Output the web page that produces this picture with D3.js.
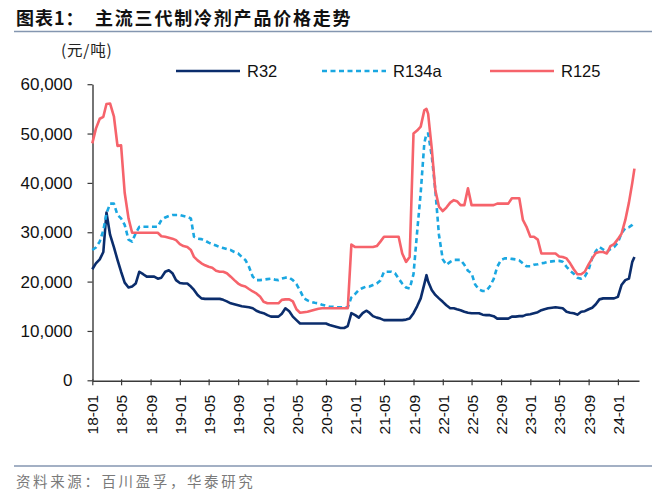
<!DOCTYPE html>
<html><head><meta charset="utf-8">
<script src="https://cdn.jsdelivr.net/npm/d3@7"></script>
<style>body{margin:0;background:#fff}</style>
</head><body>
<svg id="c" width="662" height="500"></svg>
<script>
const seriesNames = ["R32", "R134a", "R125"];
const tickLabels = ["18-01","18-05","18-09","19-01","19-05","19-09","20-01","20-05","20-09","21-01","21-05","21-09","22-01","22-05","22-09","23-01","23-05","23-09","24-01"];
const yTicks = [0, 10000, 20000, 30000, 40000, 50000, 60000];

const dates = [
"2018-01-01","2018-01-16","2018-02-01","2018-02-16","2018-03-01","2018-03-16","2018-04-01","2018-04-16","2018-05-01","2018-05-16","2018-06-01","2018-06-16","2018-07-01","2018-07-16","2018-08-01","2018-08-16","2018-09-01","2018-09-16","2018-10-01","2018-10-16","2018-11-01","2018-11-16","2018-12-01","2018-12-16",
"2019-01-01","2019-01-16","2019-02-01","2019-02-16","2019-03-01","2019-03-16","2019-04-01","2019-04-16","2019-05-01","2019-05-16","2019-06-01","2019-06-16","2019-07-01","2019-07-16","2019-08-01","2019-08-16","2019-09-01","2019-09-16","2019-10-01","2019-10-16","2019-11-01","2019-11-16","2019-12-01","2019-12-16",
"2020-01-01","2020-01-16","2020-02-01","2020-02-16","2020-03-01","2020-03-16","2020-04-01","2020-04-16","2020-05-01","2020-05-16","2020-06-01","2020-06-16","2020-07-01","2020-07-16","2020-08-01","2020-08-16","2020-09-01","2020-09-16","2020-10-01","2020-10-16","2020-11-01","2020-11-16","2020-12-01","2020-12-16",
"2021-01-01","2021-01-16","2021-02-01","2021-02-16","2021-03-01","2021-03-16","2021-04-01","2021-04-16","2021-05-01","2021-05-16","2021-06-01","2021-06-16","2021-07-01","2021-07-16","2021-08-01","2021-08-16","2021-09-01","2021-09-16","2021-10-01","2021-10-16","2021-10-25","2021-11-01","2021-11-16","2021-12-01","2021-12-16",
"2022-01-01","2022-01-16","2022-02-01","2022-02-16","2022-03-01","2022-03-16","2022-04-01","2022-04-16","2022-05-01","2022-05-16","2022-06-01","2022-06-16","2022-07-01","2022-07-16","2022-08-01","2022-08-16","2022-09-01","2022-09-16","2022-10-01","2022-10-16","2022-11-01","2022-11-16","2022-12-01","2022-12-16",
"2023-01-01","2023-01-16","2023-02-01","2023-02-16","2023-03-01","2023-03-16","2023-04-01","2023-04-16","2023-05-01","2023-05-16","2023-06-01","2023-06-16","2023-07-01","2023-07-16","2023-08-01","2023-08-16","2023-09-01","2023-09-16","2023-10-01","2023-10-16","2023-11-01","2023-11-16","2023-12-01","2023-12-16",
"2024-01-01","2024-01-16","2024-02-01","2024-02-16","2024-03-01","2024-03-10"
];

const r32 = [
22500,23700,24500,26000,34000,29500,27000,24400,22000,19800,18800,19000,19600,22000,21500,21000,21000,21000,20600,20800,22000,22300,21700,20300,
19700,19600,19600,19000,18300,17300,16600,16500,16500,16500,16500,16500,16300,16000,15600,15400,15200,15000,14900,14800,14600,14100,13800,13600,
13200,12900,12900,12900,13500,14600,14000,12900,12200,11500,11500,11500,11500,11500,11500,11500,11500,11200,11000,10800,10600,10600,11000,13600,
13200,12700,13600,14100,13700,13000,12700,12500,12200,12200,12200,12200,12200,12200,12300,12500,13600,15000,16600,19500,21300,20000,18300,17300,16600,
15900,15200,14600,14600,14400,14200,13900,13700,13600,13600,13600,13300,13200,13200,13000,12500,12500,12500,12500,12900,12900,13000,13000,13300,
13400,13600,13800,14200,14400,14600,14700,14800,14700,14600,13900,13700,13600,13300,13900,14000,14400,14700,15400,16400,16600,16600,16600,16600,
16900,19300,20300,20600,24000,25000
];

const r134a = [
26400,26900,28100,30400,33800,35800,35800,33500,32800,31500,28500,28100,29800,31100,31100,31100,31100,31100,31100,32500,33000,33300,33500,33500,
33500,33300,33100,32800,29100,28700,28600,28300,27900,27600,27300,27000,26800,26600,26400,26000,25700,25000,24400,23000,21000,20300,20300,20400,
20500,20600,20400,20300,20600,20800,20800,20300,19500,18200,16600,16200,15900,15700,15600,15300,15100,14900,14900,14800,14800,14800,14800,16800,
17500,18300,18700,19000,19000,19300,19600,20200,22000,22000,22000,21700,20600,19600,18800,18600,21500,30000,38000,48000,50000,50000,45500,38500,29500,
24500,23400,24000,24400,24400,24400,23400,22200,21700,19400,18400,18100,18100,19000,20500,23000,24400,24700,24700,24600,24500,24300,23700,23100,
23100,23400,23500,23700,23800,24000,24100,24200,24200,24000,23000,22200,21600,20800,20600,21000,22400,24800,26200,27000,26500,26000,26600,27000,
27900,29800,30800,31000,31500,32100
];

const r125 = [
48000,51000,53000,53400,56000,56100,53500,47500,47600,38000,32800,29900,29900,29900,29900,29900,29900,29900,29900,29200,29100,28900,28700,28400,
27600,27200,27000,26400,25000,24300,23700,23300,23000,22800,22200,22000,22000,21700,21000,20300,19600,19200,19000,18500,18000,17600,17000,15900,
15600,15600,15600,15600,16300,16400,16400,16000,14400,13700,13800,13900,14100,14300,14500,14600,14600,14600,14600,14600,14600,14600,14600,27500,
27000,27000,27000,27000,27000,27000,27200,28100,29100,29100,29100,29100,29100,25700,24000,25000,50000,50600,51400,54700,55000,54000,47000,38500,35200,
34300,35000,36000,36500,36300,35500,35500,38900,35500,35500,35500,35500,35500,35500,35500,35800,35800,35800,35800,36900,36900,36900,32500,31100,
29100,29100,28500,25700,25700,25700,25700,25700,25100,25000,24700,23700,22500,21500,21500,22000,23500,24700,25800,26000,26000,25700,27200,27600,
28600,29700,32500,36000,40000,42900
];

const seriesValues = [r32, r134a, r125];
const colors = ["#0b2d6c", "#1aa7e1", "#f6636b"];
const dashes = [null, "5,3.5", null];

const svg = d3.select("#c");
const parse = d3.timeParse("%Y-%m-%d");
const parsedDates = dates.map(parse);

const x = d3.scaleTime()
  .domain([parse("2018-01-01"), parse("2024-03-29")])
  .range([92.3, 639]);
const y = d3.scaleLinear().domain([0, 60000]).range([380.3, 84.2]);

// title
const title = svg.append("text").attr("y", 25)
  .attr("font-family", "'Noto Sans CJK SC', sans-serif")
  .attr("font-weight", "bold").attr("font-size", 18).attr("fill", "#111");
title.append("tspan").attr("x", 16).attr("letter-spacing", "1px").text("图表1：");
title.append("tspan").attr("x", 95).attr("letter-spacing", "1.8px").text("主流三代制冷剂产品价格走势");

svg.append("line").attr("x1", 14).attr("x2", 652).attr("y1", 31.5).attr("y2", 31.5)
  .attr("stroke", "#8496b0").attr("stroke-width", 1.5);

// unit label
svg.append("text").attr("x", 61).attr("y", 56)
  .attr("font-family", "'Noto Sans CJK SC', sans-serif")
  .attr("font-size", 15.5).attr("letter-spacing", "0.8px").attr("fill", "#222").text("(元/吨)");

// axes
const yAxis = d3.axisLeft(y).tickValues(yTicks).tickSize(5).tickSizeOuter(0).tickPadding(15)
  .tickFormat(d3.format(","));
const gy = svg.append("g").attr("transform", "translate(92.5,0)").call(yAxis);
gy.selectAll("text").attr("font-family", "'Liberation Sans', Arial, sans-serif")
  .attr("font-size", 17).attr("fill", "#111");

const tickDates = tickLabels.map(s => d3.timeParse("%y-%m")(s));
const xAxis = d3.axisBottom(x).tickValues(tickDates).tickSize(5).tickSizeOuter(0)
  .tickFormat((d, i) => tickLabels[i]);
const gx = svg.append("g").attr("transform", "translate(0,380.8)").call(xAxis);
gx.selectAll(".tick line").attr("y1", -1.5).attr("y2", 4.5);
gx.selectAll("text").attr("font-family", "'Liberation Sans', Arial, sans-serif")
  .attr("font-size", 15.5).attr("fill", "#111")
  .attr("transform", "rotate(-90)").attr("x", -14).attr("y", 0)
  .attr("dy", "0.36em").attr("text-anchor", "end");

[gx, gy].forEach(g => {
  g.selectAll("path.domain").attr("stroke", "#3a3a3a").attr("stroke-width", 1.4);
  g.selectAll(".tick line").attr("stroke", "#3a3a3a").attr("stroke-width", 1.2);
});

// lines
const line = d3.line().x((d, i) => x(parsedDates[i])).y(d => y(d));
seriesValues.forEach((vals, k) => {
  svg.append("path").datum(vals).attr("d", line)
    .attr("fill", "none").attr("stroke", colors[k]).attr("stroke-width", 2.6)
    .attr("stroke-linejoin", "round")
    .attr("stroke-dasharray", dashes[k]);
});

// legend
const legendX = [176, 322, 490];
seriesNames.forEach((name, k) => {
  svg.append("line").attr("x1", legendX[k]).attr("x2", legendX[k] + 64)
    .attr("y1", 71).attr("y2", 71)
    .attr("stroke", colors[k]).attr("stroke-width", 2.6)
    .attr("stroke-dasharray", dashes[k]);
  svg.append("text").attr("x", legendX[k] + 71).attr("y", 77)
    .attr("font-family", "'Liberation Sans', Arial, sans-serif")
    .attr("font-size", 16.5).attr("fill", "#111").text(name);
});

// footer
svg.append("line").attr("x1", 14).attr("x2", 652).attr("y1", 466).attr("y2", 466)
  .attr("stroke", "#8496b0").attr("stroke-width", 1.5);
svg.append("text").attr("x", 16).attr("y", 487)
  .attr("font-family", "'Noto Sans CJK SC', sans-serif")
  .attr("font-size", 14.5).attr("letter-spacing", "2.6px").attr("fill", "#7a7a7a")
  .text("资料来源：百川盈孚，华泰研究");
</script>
</body></html>
